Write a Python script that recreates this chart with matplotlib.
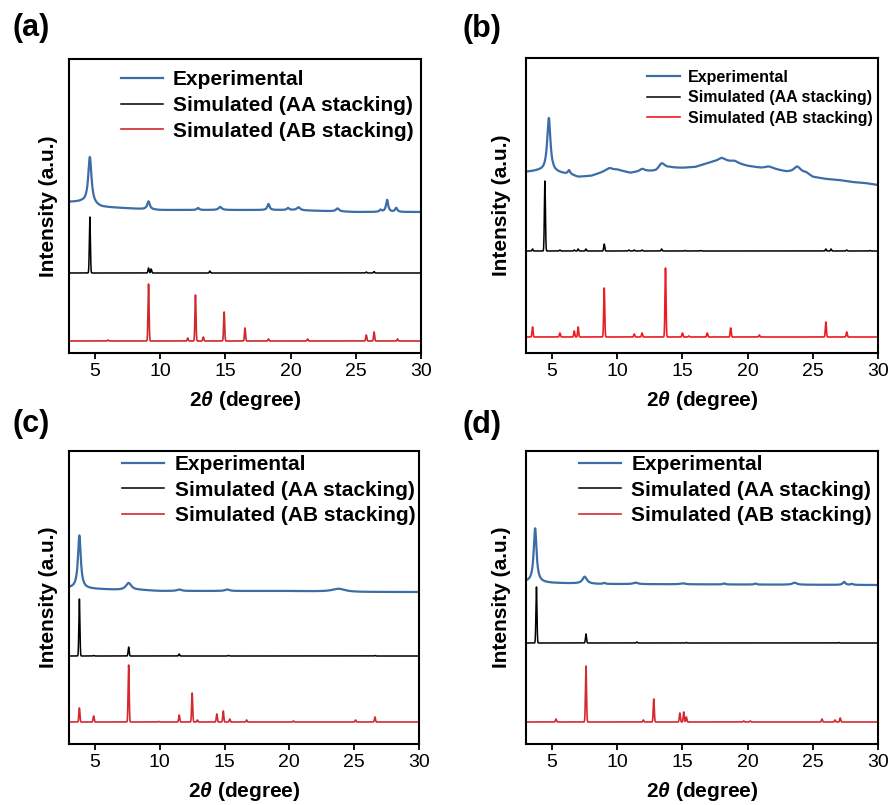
import numpy as np
import matplotlib.pyplot as plt

plt.rcParams['font.family'] = ['Liberation Sans', 'DejaVu Sans']
plt.rcParams['mathtext.fontset'] = 'custom'
plt.rcParams['mathtext.it'] = 'Liberation Sans:italic:bold'
plt.rcParams['mathtext.rm'] = 'Liberation Sans:bold'

# ---------------- data (2theta in degree, intensity in a.u.) ----------------
# panel (a)
a_bg_x = [3, 4, 5.5, 7, 10, 20, 25, 30]
a_bg_y = [151, 151, 146, 145, 143, 143, 141, 141]
a_exp_pos = [4.6, 9.1, 12.9, 14.6, 18.3, 19.8, 20.6, 23.6, 26.9, 27.4, 28.1]
a_exp_h = [47, 8, 2, 3, 6, 2, 3, 3, 2, 12, 4]
a_exp_w = [0.15, 0.12, 0.1, 0.15, 0.1, 0.1, 0.15, 0.15, 0.1, 0.1, 0.1]
a_aa_base = 80
a_aa_pos = [4.6, 9.1, 9.3, 13.8, 25.8, 26.4]
a_aa_h = [56, 5, 4, 2, 1, 1.5]
a_ab_base = 12
a_ab_pos = [6.0, 9.1, 12.1, 12.7, 13.3, 14.9, 16.5, 18.3, 21.3, 25.8, 26.4, 28.2]
a_ab_h = [1, 57, 3, 46, 4, 29, 13, 2, 2, 6, 9, 2]

# panel (b)
b_bg_x = [3, 4, 5.5, 6.5, 7, 8, 9, 10, 11, 12, 13, 14, 15, 16, 17, 18, 19,
          20, 21, 22, 23, 24.5, 25, 26, 27, 28, 29, 30]
b_bg_y = [181, 182, 180, 178, 176, 177, 181, 183, 180, 182, 181, 185, 185, 186,
          190, 193, 190, 187, 185, 184, 181, 180, 176, 174, 173, 171, 170, 168]
b_exp_pos = [4.75, 6.3, 9.4, 11.9, 13.4, 18.0, 19.0, 21.6, 23.8]
b_exp_h = [54, 4, 3, 2, 7, 2, 2, 2, 6]
b_exp_w = [0.15, 0.1, 0.3, 0.2, 0.3, 0.3, 0.3, 0.3, 0.3]
b_aa_base = 102
b_aa_pos = [3.5, 4.45, 5.6, 6.7, 7.0, 7.6, 9.0, 10.9, 11.3, 11.9, 13.4, 15.2,
            16.4, 26.0, 26.4, 27.6, 29.4]
b_aa_h = [2, 70, 1, 1, 2, 2, 7, 1, 1, 1, 2, 0.5, 0.5, 2, 2, 1, 0.5]
b_ab_base = 16
b_ab_pos = [3.5, 5.6, 6.7, 7.0, 9.0, 11.3, 11.9, 13.7, 15.0, 15.5, 16.9, 18.7,
            20.9, 26.0, 27.6]
b_ab_h = [10, 4, 6, 10, 49, 3, 4, 69, 4, 1, 4, 9, 2, 15, 5]

# panel (c)
c_bg_x = [3, 5, 7, 8.5, 10, 20, 25, 30]
c_bg_y = [156, 155, 154, 154, 153, 153, 152, 152]
c_exp_pos = [3.8, 7.6, 11.5, 15.2, 23.8]
c_exp_h = [53, 7, 1.5, 1.5, 3]
c_exp_w = [0.13, 0.25, 0.2, 0.2, 0.6]
c_aa_base = 88
c_aa_pos = [3.8, 4.9, 7.6, 11.5, 15.3, 26.6]
c_aa_h = [57, 0.5, 9, 2, 0.5, 0.5]
c_ab_base = 22
c_ab_pos = [3.8, 4.9, 7.6, 9.9, 11.5, 12.5, 12.9, 14.4, 14.9, 15.4, 16.7, 20.3,
            25.1, 26.6]
c_ab_h = [14, 6, 57, 0.5, 7, 29, 2, 8, 11, 3, 2, 1, 2, 5]

# panel (d)
d_bg_x = [3, 5, 8.5, 30]
d_bg_y = [162, 161, 160, 159]
d_exp_pos = [3.7, 7.5, 9.0, 11.4, 15.0, 18.2, 20.6, 23.6, 27.4, 28.0]
d_exp_h = [54, 7, 1, 1.5, 1, 1, 1, 2, 3, 1]
d_exp_w = [0.13, 0.2, 0.1, 0.2, 0.2, 0.1, 0.1, 0.2, 0.12, 0.1]
d_aa_base = 101
d_aa_pos = [3.8, 7.6, 11.5, 15.3, 27.0]
d_aa_h = [56, 9, 1, 0.5, 0.5]
d_ab_base = 22
d_ab_pos = [5.3, 7.6, 12.0, 12.8, 14.8, 15.1, 15.3, 19.7, 20.2, 25.7, 26.7, 27.1]
d_ab_h = [3, 56, 2, 23, 9, 10, 5, 1, 1, 3, 2, 4]

labels = ['Experimental', 'Simulated (AA stacking)', 'Simulated (AB stacking)']

tt = np.arange(3, 30.0001, 0.005)


def lorentz(pos, h, w):
    y = np.zeros_like(tt)
    for p, hh, ww in zip(pos, h, w):
        y += hh / (1 + ((tt - p) / ww) ** 2)
    return y


def sticks(pos, h, s=0.04):
    y = np.zeros_like(tt)
    for p, hh in zip(pos, h):
        y += hh * np.exp(-0.5 * ((tt - p) / s) ** 2)
    return y


fig = plt.figure(figsize=(8.92, 8.05), dpi=100)

W, H = 892.0, 805.0
panels = [
    # (left, top, right, bottom) in pixels
    ('(a)', (69, 59, 421, 353), a_bg_x, a_bg_y, a_exp_pos, a_exp_h, a_exp_w,
     a_aa_base, a_aa_pos, a_aa_h, a_ab_base, a_ab_pos, a_ab_h,
     '#d0282c', 15, (0.979, 0.962), 2.0, 0.32, 8, (13, 28)),
    ('(b)', (526, 58, 878, 353), b_bg_x, b_bg_y, b_exp_pos, b_exp_h, b_exp_w,
     b_aa_base, b_aa_pos, b_aa_h, b_ab_base, b_ab_pos, b_ab_h,
     '#ec1c24', 11.5, (0.986, 0.96), 2.06, 0.34, 11, (463, 29)),
    ('(c)', (69, 451, 419, 744), c_bg_x, c_bg_y, c_exp_pos, c_exp_h, c_exp_w,
     c_aa_base, c_aa_pos, c_aa_h, c_ab_base, c_ab_pos, c_ab_h,
     '#d42a2f', 15, (0.989, 0.986), 2.0, 0.32, 8, (13, 424)),
    ('(d)', (526, 451, 878, 744), d_bg_x, d_bg_y, d_exp_pos, d_exp_h, d_exp_w,
     d_aa_base, d_aa_pos, d_aa_h, d_ab_base, d_ab_pos, d_ab_h,
     '#d42a2f', 15, (0.983, 0.986), 2.0, 0.32, 11, (463, 425)),
]

for (tag, box, bgx, bgy, epos, eh, ew, aab, aap, aah, abb, abp, abh,
     red, lfs, lpos, hlen, lsp, ypad, tagpos) in panels:
    l, t, r, b = box
    ax = fig.add_axes([l / W, (H - b) / H, (r - l) / W, (b - t) / H])
    exp = np.interp(tt, bgx, bgy) + lorentz(epos, eh, ew)
    aa = aab + sticks(aap, aah)
    ab = abb + sticks(abp, abh)
    ax.plot(tt, exp, color='#3c6da6', lw=1.6, label=labels[0])
    ax.plot(tt, aa, color='black', lw=1.1, label=labels[1])
    ax.plot(tt, ab, color=red, lw=1.2, label=labels[2])
    ax.set_xlim(3, 30)
    ax.set_ylim(0, b - t)
    ax.set_xticks([5, 10, 15, 20, 25, 30])
    ax.set_yticks([])
    ax.tick_params(axis='x', direction='out', length=4, width=1.3,
                   labelsize=14, pad=3)
    for sp in ax.spines.values():
        sp.set_linewidth(1.5)
    ax.set_xlabel(r'2$\theta$ (degree)', fontsize=15, fontweight='bold',
                  labelpad=7)
    ax.set_ylabel('Intensity (a.u.)', fontsize=15, fontweight='bold',
                  labelpad=ypad)
    ax.legend(loc='upper right', bbox_to_anchor=lpos, frameon=False,
              borderpad=0, borderaxespad=0, handlelength=hlen,
              handletextpad=0.5, labelspacing=lsp,
              prop={'size': lfs, 'weight': 'bold'})
    fig.text(tagpos[0] / W, 1 - tagpos[1] / H, tag, fontsize=22,
             fontweight='bold', ha='left', va='center')

fig.savefig('out.png', dpi=100)
